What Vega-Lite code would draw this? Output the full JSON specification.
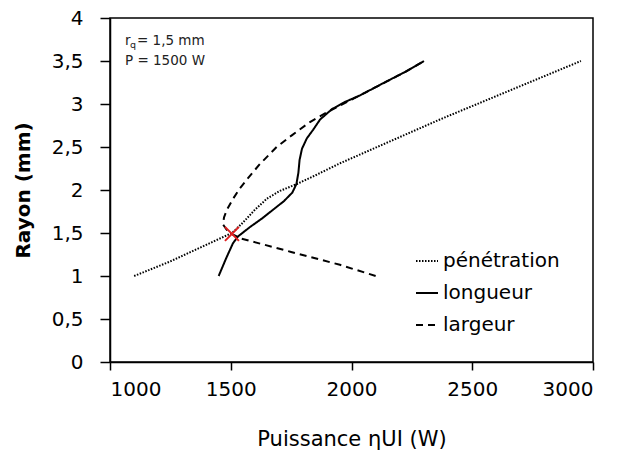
{
  "$schema": "https://vega.github.io/schema/vega-lite/v6.json",
  "width": 483,
  "height": 344,
  "autosize": {"type": "none"},
  "padding": {"left": 110, "top": 18, "right": 30, "bottom": 102},
  "background": "white",
  "config": {
    "font": "DejaVu Sans",
    "view": {"stroke": "black", "strokeWidth": 1.5},
    "axis": {
      "domainColor": "black", "domainWidth": 1.5, "tickColor": "black", "tickWidth": 1.5,
      "labelColor": "black", "titleColor": "black", "grid": false,
      "labelFont": "DejaVu Sans", "titleFont": "DejaVu Sans", "labelFontSize": 20, "titleFontSize": 20
    }
  },
  "datasets": {
    "lines": [
      {"s": "pénétration", "i": 1, "x": 1100, "y": 1.0},
      {"s": "pénétration", "i": 2, "x": 1250, "y": 1.17},
      {"s": "pénétration", "i": 3, "x": 1373, "y": 1.33},
      {"s": "pénétration", "i": 4, "x": 1505, "y": 1.5},
      {"s": "pénétration", "i": 5, "x": 1550, "y": 1.62},
      {"s": "pénétration", "i": 6, "x": 1600, "y": 1.77},
      {"s": "pénétration", "i": 7, "x": 1650, "y": 1.9},
      {"s": "pénétration", "i": 8, "x": 1704, "y": 1.99},
      {"s": "pénétration", "i": 9, "x": 1774, "y": 2.07},
      {"s": "pénétration", "i": 10, "x": 1850, "y": 2.17},
      {"s": "pénétration", "i": 11, "x": 1952, "y": 2.31},
      {"s": "pénétration", "i": 12, "x": 2366, "y": 2.82},
      {"s": "pénétration", "i": 13, "x": 2950, "y": 3.5},
      {"s": "longueur", "i": 1, "x": 1450, "y": 1.0},
      {"s": "longueur", "i": 2, "x": 1480, "y": 1.2},
      {"s": "longueur", "i": 3, "x": 1509, "y": 1.38},
      {"s": "longueur", "i": 4, "x": 1530, "y": 1.46},
      {"s": "longueur", "i": 5, "x": 1580, "y": 1.57},
      {"s": "longueur", "i": 6, "x": 1630, "y": 1.67},
      {"s": "longueur", "i": 7, "x": 1675, "y": 1.77},
      {"s": "longueur", "i": 8, "x": 1720, "y": 1.87},
      {"s": "longueur", "i": 9, "x": 1755, "y": 1.97},
      {"s": "longueur", "i": 10, "x": 1772, "y": 2.07},
      {"s": "longueur", "i": 11, "x": 1780, "y": 2.2},
      {"s": "longueur", "i": 12, "x": 1785, "y": 2.35},
      {"s": "longueur", "i": 13, "x": 1795, "y": 2.48},
      {"s": "longueur", "i": 14, "x": 1815, "y": 2.6},
      {"s": "longueur", "i": 15, "x": 1841, "y": 2.7},
      {"s": "longueur", "i": 16, "x": 1870, "y": 2.82},
      {"s": "longueur", "i": 17, "x": 1919, "y": 2.94},
      {"s": "longueur", "i": 18, "x": 1970, "y": 3.02},
      {"s": "longueur", "i": 19, "x": 2035, "y": 3.1},
      {"s": "longueur", "i": 20, "x": 2130, "y": 3.24},
      {"s": "longueur", "i": 21, "x": 2220, "y": 3.37},
      {"s": "longueur", "i": 22, "x": 2300, "y": 3.5},
      {"s": "largeur", "i": 1, "x": 2100, "y": 1.0},
      {"s": "largeur", "i": 2, "x": 1952, "y": 1.13},
      {"s": "largeur", "i": 3, "x": 1750, "y": 1.28},
      {"s": "largeur", "i": 4, "x": 1538, "y": 1.44},
      {"s": "largeur", "i": 5, "x": 1490, "y": 1.51},
      {"s": "largeur", "i": 6, "x": 1468, "y": 1.6},
      {"s": "largeur", "i": 7, "x": 1472, "y": 1.68},
      {"s": "largeur", "i": 8, "x": 1484, "y": 1.77},
      {"s": "largeur", "i": 9, "x": 1510, "y": 1.9},
      {"s": "largeur", "i": 10, "x": 1538, "y": 2.02},
      {"s": "largeur", "i": 11, "x": 1575, "y": 2.15},
      {"s": "largeur", "i": 12, "x": 1620, "y": 2.3},
      {"s": "largeur", "i": 13, "x": 1690, "y": 2.5},
      {"s": "largeur", "i": 14, "x": 1750, "y": 2.63},
      {"s": "largeur", "i": 15, "x": 1828, "y": 2.79},
      {"s": "largeur", "i": 16, "x": 1903, "y": 2.91},
      {"s": "largeur", "i": 17, "x": 1950, "y": 2.98},
      {"s": "largeur", "i": 18, "x": 2035, "y": 3.1},
      {"s": "largeur", "i": 19, "x": 2130, "y": 3.24},
      {"s": "largeur", "i": 20, "x": 2220, "y": 3.37},
      {"s": "largeur", "i": 21, "x": 2300, "y": 3.5}
    ],
    "marker": [{"x": 1505, "y": 1.49}],
    "notes": [
      {"x": 1062, "y": 3.73, "a": "r", "b": "q", "c": "= 1,5 mm"},
      {"x": 1062, "y": 3.5, "a": "P = 1500 W", "b": "", "c": ""}
    ]
  },
  "layer": [
    {
      "data": {"name": "lines"},
      "mark": {"type": "line", "color": "black", "strokeWidth": 2, "interpolate": "linear"},
      "encoding": {
        "x": {"field": "x", "type": "quantitative",
              "scale": {"domain": [1000, 3000], "nice": false},
              "axis": {"values": [1000, 1500, 2000, 2500, 3000], "format": "d", "tickSize": 8, "labelPadding": 9,
                       "title": "Puissance ηUI (W)", "titleFontSize": 21, "titlePadding": 29, "titleFontWeight": "normal"}},
        "y": {"field": "y", "type": "quantitative",
              "scale": {"domain": [0, 4], "nice": false},
              "axis": {"values": [0, 0.5, 1, 1.5, 2, 2.5, 3, 3.5, 4], "tickSize": 10, "labelPadding": 17,
                       "format": ".1~f", "labelExpr": "replace(datum.label, '.', ',')",
                       "title": "Rayon (mm)", "titlePadding": 18, "titleFontWeight": "bold"}},
        "order": {"field": "i", "type": "quantitative"},
        "detail": {"field": "s"},
        "strokeDash": {"field": "s", "type": "nominal",
          "scale": {"domain": ["pénétration", "longueur", "largeur"], "range": [[1.5, 1.5], [1, 0], [7, 5]]},
          "legend": {"title": null, "orient": "none", "legendX": 305, "legendY": 231,
                     "symbolType": "stroke", "symbolSize": 484, "symbolStrokeWidth": 2,
                     "symbolStrokeColor": "black", "labelFontSize": 20, "labelColor": "black",
                     "labelFont": "DejaVu Sans", "rowPadding": 10, "labelOffset": 4}}
      }
    },
    {
      "data": {"name": "marker"},
      "mark": {"type": "point", "shape": "M-1,-1L1,1M-1,1L1,-1", "size": 196, "stroke": "#e02020", "strokeWidth": 2, "filled": false, "opacity": 1},
      "encoding": {
        "x": {"field": "x", "type": "quantitative"},
        "y": {"field": "y", "type": "quantitative"}
      }
    },
    {
      "data": {"name": "notes"},
      "mark": {"type": "text", "align": "left", "baseline": "middle", "fontSize": 13.5, "color": "#222", "font": "DejaVu Sans"},
      "encoding": {
        "x": {"field": "x", "type": "quantitative"},
        "y": {"field": "y", "type": "quantitative"},
        "text": {"field": "a"}
      }
    },
    {
      "data": {"name": "notes"},
      "mark": {"type": "text", "align": "left", "baseline": "middle", "fontSize": 9.5, "dx": 5, "dy": 4, "color": "#222", "font": "DejaVu Sans"},
      "encoding": {
        "x": {"field": "x", "type": "quantitative"},
        "y": {"field": "y", "type": "quantitative"},
        "text": {"field": "b"}
      }
    },
    {
      "data": {"name": "notes"},
      "mark": {"type": "text", "align": "left", "baseline": "middle", "fontSize": 13.5, "dx": 12, "color": "#222", "font": "DejaVu Sans"},
      "encoding": {
        "x": {"field": "x", "type": "quantitative"},
        "y": {"field": "y", "type": "quantitative"},
        "text": {"field": "c"}
      }
    }
  ]
}
